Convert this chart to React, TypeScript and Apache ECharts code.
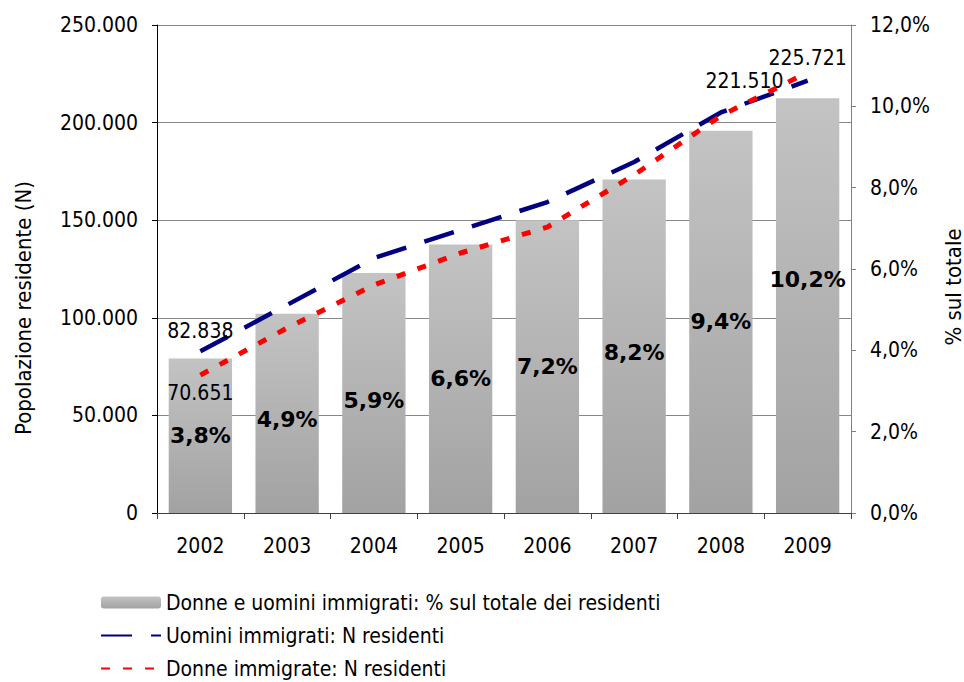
import React, { useEffect, useRef } from "react";
import * as echarts from "echarts";

const years = ["2002", "2003", "2004", "2005", "2006", "2007", "2008", "2009"];
const pctOnTotal = [3.8, 4.9, 5.9, 6.6, 7.2, 8.2, 9.4, 10.2];
const menResidents = [82838, 106600, 130600, 145000, 159300, 179800, 205200, 221510];
const womenResidents = [70651, 94800, 116800, 133200, 146500, 173200, 203500, 225721];
const leftAxisTicks = [0, 50000, 100000, 150000, 200000, 250000];
const rightAxisTicks = [0, 2, 4, 6, 8, 10, 12];

// label nudges (style only)
const barLabelNudge = [0, 6, 7, 0, 0, 6, 0, -26];

const FONT = "'DejaVu Sans Condensed', 'DejaVu Sans', sans-serif";
const BOLD_FONT = "'DejaVu Sans', sans-serif";

const fmtThousands = (v: number) =>
  v === 0 ? "0" : String(Math.round(v)).replace(/\B(?=(\d{3})+(?!\d))/g, ".");
const fmtPct = (v: number) => v.toFixed(1).replace(".", ",") + "%";

const BAR_NAME = "Donne e uomini immigrati: % sul totale dei residenti";
const MEN_NAME = "Uomini immigrati: N residenti";
const WOMEN_NAME = "Donne immigrate: N residenti";

export default function App() {
  const ref = useRef<HTMLDivElement>(null);
  useEffect(() => {
    if (!ref.current) return;
    const chart = echarts.init(ref.current, undefined, { renderer: "svg" });
    const lastIdx = years.length - 1;
    const lineData = (vals: number[], firstPos: string, lastPos: string, firstDist: number, lastDist: number) =>
      vals.map((v, i) =>
        i === 0 || i === lastIdx
          ? {
              value: v,
              symbol: "circle",
              symbolSize: 0.01,
              label: {
                show: true,
                position: i === 0 ? firstPos : lastPos,
                distance: i === 0 ? firstDist : lastDist,
                formatter: (p: any) => fmtThousands(p.value),
                fontFamily: FONT,
                fontSize: 21,
                color: "#000",
              },
            }
          : v
      );
    chart.setOption({
      animation: false,
      backgroundColor: "#fff",
      textStyle: { fontFamily: FONT },
      grid: {
        left: 157,
        right: 113,
        top: 25,
        bottom: 169,
        containLabel: false,
        outerBoundsMode: "none",
      },
      legend: {
        orient: "vertical",
        left: 100,
        top: 592,
        padding: 0,
        itemWidth: 60,
        itemHeight: 12,
        itemGap: 12,
        textStyle: { fontFamily: FONT, fontSize: 21, color: "#000" },
        data: [
          { name: BAR_NAME },
          { name: MEN_NAME, itemStyle: { opacity: 0 } },
          { name: WOMEN_NAME, itemStyle: { opacity: 0 } },
        ],
      },
      xAxis: {
        type: "category",
        data: years,
        boundaryGap: true,
        axisLine: { lineStyle: { color: "#404040", width: 1 } },
        axisTick: { show: true, length: 6, lineStyle: { color: "#404040" } },
        axisLabel: { fontFamily: FONT, fontSize: 21, color: "#000", margin: 22 },
      },
      yAxis: [
        {
          type: "value",
          min: 0,
          max: 250000,
          interval: 50000,
          name: "Popolazione residente (N)",
          nameLocation: "middle",
          nameRotate: 90,
          nameGap: 123,
          nameTextStyle: { fontFamily: FONT, fontSize: 22, color: "#000", padding: [0, 78, 0, 0] },
          axisLine: { show: true, lineStyle: { color: "#000", width: 1 } },
          axisTick: { show: true, length: 5, lineStyle: { color: "#000" } },
          axisLabel: {
            fontFamily: FONT,
            fontSize: 21,
            color: "#000",
            margin: 19,
            formatter: (v: number) => (leftAxisTicks.includes(v) ? fmtThousands(v) : ""),
          },
          splitLine: { show: true, lineStyle: { color: "#878787", width: 1 } },
        },
        {
          type: "value",
          min: 0,
          max: 12,
          interval: 2,
          position: "right",
          name: "% sul totale",
          nameLocation: "middle",
          nameRotate: 90,
          nameGap: 91,
          nameTextStyle: { fontFamily: FONT, fontSize: 22, color: "#000", padding: [0, 36, 0, 0] },
          axisLine: { show: true, lineStyle: { color: "#808080", width: 1 } },
          axisTick: { show: true, length: 5, lineStyle: { color: "#808080" } },
          axisLabel: {
            fontFamily: FONT,
            fontSize: 21,
            color: "#000",
            margin: 19,
            formatter: (v: number) => (rightAxisTicks.includes(v) ? fmtPct(v) : ""),
          },
          splitLine: { show: false },
        },
      ],
      series: [
        {
          name: BAR_NAME,
          type: "bar",
          yAxisIndex: 1,
          barCategoryGap: "27%",
          itemStyle: {
            color: new echarts.graphic.LinearGradient(0, 0, 0, 1, [
              { offset: 0, color: "#c3c3c3" },
              { offset: 1, color: "#a2a2a2" },
            ]),
          },
          data: pctOnTotal.map((v, i) => ({
            value: v,
            label: { offset: [0, barLabelNudge[i]] },
          })),
          label: {
            show: true,
            position: "inside",
            formatter: (p: any) => fmtPct(p.value),
            fontFamily: BOLD_FONT,
            fontWeight: "bold",
            fontSize: 22,
            color: "#000",
          },
          z: 1,
        },
        {
          name: MEN_NAME,
          type: "line",
          yAxisIndex: 0,
          symbol: "none",
          showSymbol: true,
          smooth: false,
          lineStyle: { color: "#000080", width: 4.5, type: [31, 19], cap: "butt" },
          itemStyle: { color: "#000080" },
          data: lineData(menResidents, "top", "left", 10, 24),
          z: 3,
        },
        {
          name: WOMEN_NAME,
          type: "line",
          yAxisIndex: 0,
          symbol: "none",
          showSymbol: true,
          smooth: false,
          lineStyle: { color: "#ff0000", width: 5, type: [9, 13], cap: "butt" },
          itemStyle: { color: "#ff0000" },
          data: lineData(womenResidents, "bottom", "top", 7, 4),
          z: 4,
        },
      ],
    });
    return () => chart.dispose();
  }, []);
  return (
    <div
      ref={ref}
      style={{ position: "fixed", left: 0, top: 0, width: 964, height: 682, background: "#fff" }}
    />
  );
}
